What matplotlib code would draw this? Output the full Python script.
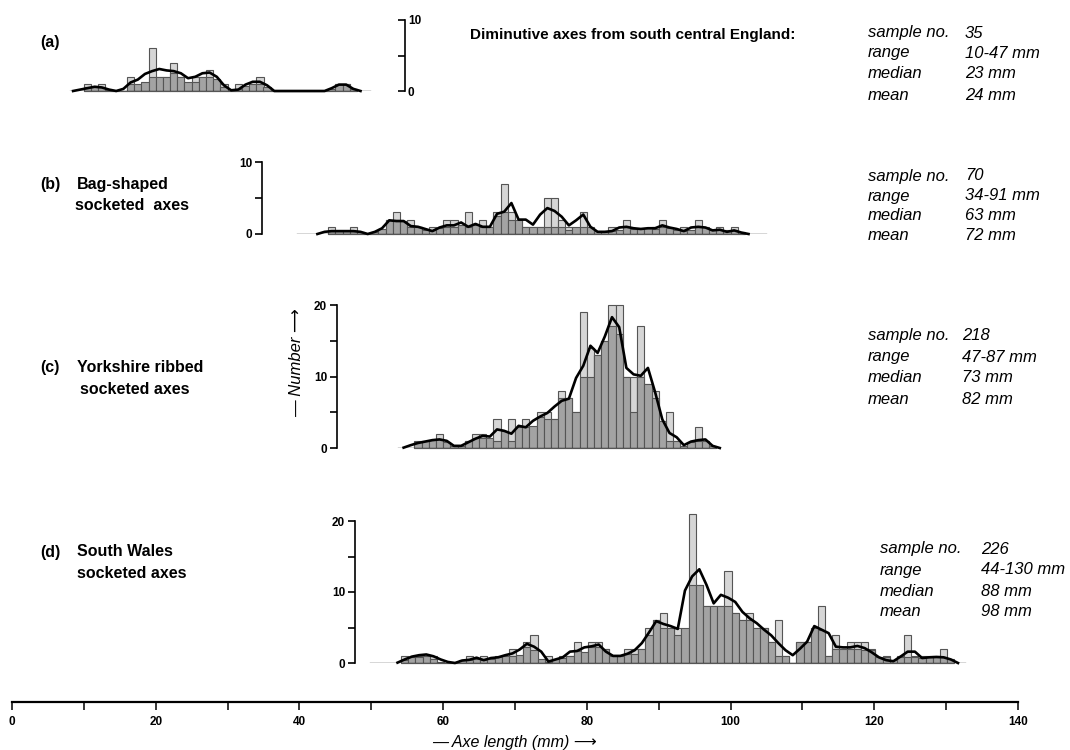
import numpy as np
import matplotlib
matplotlib.use("Agg")
import matplotlib.pyplot as plt

plt.rcParams['font.family'] = ['Liberation Sans', 'DejaVu Sans']

W, H = 1070, 750

# (a) diminutive axes, bins start at 10 mm
a_start = 10
a_raw = [1, 0, 1, 0, 0, 0, 2, 0, 0, 6, 2, 2, 4, 2, 1, 2, 2, 3, 1, 1,
         0, 1, 0, 1, 2, 0, 0, 0, 0, 0, 0, 0, 0, 0, 0, 1, 1, 0]
a_dark = [0.5, 0.5, 0.5, 0.2, 0, 0, 1, 1, 1.2, 2, 2, 2, 2.5, 2, 1.3, 1.3, 2, 2, 1.7, 0.5,
          0, 0.3, 0.7, 1, 1, 0.5, 0, 0, 0, 0, 0, 0, 0, 0, 0.3, 1, 1, 0.3]
a_lstart = 8
a_line = [0, 0.2, 0.4, 0.6, 0.5, 0.2, 0, 0.3, 1.2, 1.6, 2.4, 2.8, 3.1, 2.9, 2.8, 2.5, 1.8, 2.0,
          2.5, 2.6, 2.0, 0.8, 0.1, 0.2, 0.9, 1.3, 1.3, 0.8, 0, 0, 0, 0, 0, 0, 0, 0,
          0.4, 0.9, 0.9, 0.3, 0]

# (b) bag-shaped socketed axes
b_start = 44
b_raw = [1, 0, 0, 1, 0, 0, 0, 0, 2, 3, 1, 2, 1, 0, 1, 0, 2, 2, 1, 3,
         1, 2, 1, 3, 7, 3, 2, 1, 1, 1, 5, 5, 2, 1, 0, 3, 0, 0, 0, 1,
         0, 2, 0, 0, 0, 1, 2, 0, 0, 1, 0, 2, 0, 0, 1, 0, 1, 0]
b_dark = [0.4, 0.4, 0.4, 0.4, 0.3, 0, 0.3, 0.7, 1.9, 1.9, 1.8, 1, 1, 0.6, 0.6, 0.8, 1, 1, 1.3, 1,
          1.3, 1, 1, 2.5, 3, 2, 2, 1, 1, 1, 1, 1, 1, 0.5, 1, 1, 1, 0.4, 0.4, 0.4,
          0.5, 1, 0.7, 0.7, 0.8, 0.7, 1, 0.8, 0.6, 0.4, 0.5, 1, 1, 0.6, 0.5, 0.5, 0.5, 0.3]
b_lstart = 42
b_line = [0, 0.3, 0.4, 0.4, 0.4, 0.4, 0.3, 0.0, 0.3, 0.8, 1.9, 1.8, 1.8, 1.1, 1.0, 0.7, 0.4,
          0.9, 1.2, 1.2, 1.6, 1.0, 1.4, 1.0, 1.0, 2.8, 3.1, 4.3, 2.0, 2.0, 1.3, 2.7, 3.6,
          3.2, 2.4, 1.2, 1.9, 2.7, 1.0, 0.3, 0.3, 0.4, 0.9, 1.0, 0.8, 0.7, 0.8, 0.8, 1.2,
          0.9, 0.7, 0.4, 0.9, 1.0, 0.9, 0.5, 0.6, 0.3, 0.5, 0.2, 0]

# (c) Yorkshire ribbed socketed axes
c_start = 56
c_raw = [1, 1, 1, 2, 0, 0, 0, 1, 2, 2, 1, 4, 2, 4, 3, 4, 3, 5, 5, 4,
         8, 7, 5, 19, 14, 13, 15, 20, 20, 10, 10, 17, 9, 8, 3, 5, 1, 0, 0, 3,
         1, 0]
c_dark = [0.8, 1, 1.1, 1.2, 0.8, 0.3, 0.3, 1, 1.4, 1.4, 1.4, 1, 2.4, 1, 2.9, 3, 3.1, 4.3, 4, 4,
          7, 7, 5, 10, 10, 13, 15, 17, 16, 10, 5, 10, 9, 7, 3.8, 1, 1, 0.3, 0.8, 1,
          1, 0.3]
c_lstart = 54
c_line = [0.05, 0.4, 0.7, 0.9, 1.1, 1.2, 1.0, 0.3, 0.3, 0.8, 1.3, 1.7, 1.6, 2.6, 2.4, 2.0,
          3.1, 2.9, 3.8, 4.4, 4.9, 5.8, 6.6, 6.9, 9.8, 11.5, 14.3, 13.3, 15.6, 18.3, 16.9,
          11.2, 10.3, 10.1, 11.2, 7.8, 4.0, 2.1, 1.5, 0.4, 0.9, 1.1, 1.2, 0.3, 0]

# (d) South Wales socketed axes
d_start = 54
d_raw = [1, 0, 1, 1, 1, 0, 0, 0, 0, 1, 0, 1, 0, 1, 1, 2, 1, 3, 4, 0,
         1, 0, 1, 1, 3, 1, 3, 3, 2, 1, 1, 2, 2, 2, 5, 6, 7, 5, 5, 4,
         21, 11, 8, 8, 8, 13, 7, 6, 7, 5, 5, 3, 6, 1, 0, 3, 3, 5, 8, 1,
         4, 2, 3, 3, 3, 2, 0, 1, 0, 1, 4, 1, 1, 1, 1, 2, 0]
d_dark = [0.4, 0.8, 0.9, 1.0, 0.6, 0.2, 0, 0, 0.4, 0.4, 0.6, 0.4, 0.6, 0.8, 1.0, 1.0, 1.1, 2.2, 1.9, 0.5,
          0.2, 0.5, 0.7, 1.0, 1.7, 1.5, 2.2, 2.3, 2.0, 1.0, 1.0, 1.2, 1.2, 2.0, 4.0, 6.0, 5.0, 5.0, 4.0, 5.0,
          11, 11, 8, 8, 8, 8, 7, 6, 6, 5, 5, 3, 1, 1, 0, 3, 3, 5, 4.7, 1,
          2, 2, 2, 2, 1.8, 1.9, 0.8, 0.8, 0.4, 0.9, 0.8, 0.8, 0.7, 0.8, 0.8, 0.8, 0.5]
d_lstart = 53
d_line = [0.05, 0.5, 0.9, 1.1, 1.2, 0.95, 0.5, 0.15, 0.0, 0.35, 0.45, 0.75, 0.4, 0.7, 0.8,
          1.1, 1.35, 1.9, 2.7, 2.3, 1.6, 0.2, 0.5, 0.8, 1.6, 1.7, 2.2, 2.35, 2.6, 1.6, 1.0,
          1.0, 1.3, 1.8, 2.8, 4.3, 5.9, 5.5, 5.2, 4.8, 10.2, 12.2, 13.2, 11.0, 8.4, 9.6,
          9.2, 8.6, 7.2, 6.3, 5.6, 4.7, 3.9, 2.8, 1.8, 1.1, 2.0, 3.0, 5.2, 4.7, 4.2, 2.3,
          2.2, 2.2, 2.4, 2.1, 1.5, 0.8, 0.4, 0.25, 0.9, 1.6, 1.6, 0.7, 0.8, 0.85, 0.8, 0.5, 0]

stat_labels = ['sample no.', 'range', 'median', 'mean']
a_stats = ['35', '10-47 mm', '23 mm', '24 mm']
b_stats = ['70', '34-91 mm', '63 mm', '72 mm']
c_stats = ['218', '47-87 mm', '73 mm', '82 mm']
d_stats = ['226', '44-130 mm', '88 mm', '98 mm']

LIGHT = '#d6d6d6'
DARK = '#a3a3a3'
EDGE = '#555555'

fig = plt.figure(figsize=(W / 100, H / 100), dpi=100)


def T(x, y, s, **kw):
    kw.setdefault('va', 'center')
    return fig.text(x / W, 1 - y / H, s, **kw)


def panel(base, ymax, per):
    ax = fig.add_axes([12 / W, 1 - base / H, 1006 / W, ymax * per / H])
    ax.set_xlim(0, 140)
    ax.set_ylim(0, ymax)
    ax.patch.set_alpha(0)
    for s in ['top', 'bottom', 'left', 'right']:
        ax.spines[s].set_visible(False)
    ax.set_xticks([])
    return ax


def draw(ax, start, raw, dark, lstart, line, xr, off=0.0):
    x = start + np.arange(len(raw)) + off
    ax.bar(x, raw, width=1, align='edge', color=LIGHT, edgecolor=EDGE, lw=0.8, clip_on=False, zorder=1)
    ax.bar(x, dark, width=1, align='edge', color=DARK, edgecolor=EDGE, lw=0.8, clip_on=False, zorder=2)
    xl = lstart + np.arange(len(line)) + 0.5 + off
    ax.plot(xl, line, color='black', lw=1.9, clip_on=False, zorder=4, solid_joinstyle='round')
    ax.plot(xr, [0, 0], color='#333333', lw=1, zorder=3)


def yaxis(ax, xpos, ymax, side='left'):
    sp = ax.spines[side]
    sp.set_visible(True)
    sp.set_position(('data', xpos))
    sp.set_bounds(0, ymax)
    sp.set_linewidth(1.2)
    if side == 'right':
        ax.yaxis.tick_right()
        direction = 'in'
    else:
        ax.yaxis.tick_left()
        direction = 'out'
    ax.set_yticks(list(range(0, ymax + 1, 10)))
    ax.set_yticks(list(range(5, ymax, 10)), minor=True)
    ax.tick_params(axis='y', which='both', direction=direction, length=5, width=1.2, pad=2)
    ax.tick_params(axis='y', labelsize=8.5)
    for lb in ax.get_yticklabels():
        lb.set_fontweight('bold')


# panel (a)
ax_a = panel(91, 10, 7.1)
draw(ax_a, a_start, a_raw, a_dark, a_lstart, a_line, [8.1, 49.8])
yaxis(ax_a, 54.7, 10, side='right')

# panel (b)
ax_b = panel(234, 10, 7.2)
draw(ax_b, b_start, b_raw, b_dark, b_lstart, b_line, [39.7, 105])
yaxis(ax_b, 34.8, 10)

# panel (c)
ax_c = panel(448, 20, 7.15)
draw(ax_c, c_start, c_raw, c_dark, c_lstart, c_line, [53.7, 97.6])
yaxis(ax_c, 45.2, 20)

# panel (d)
ax_d = panel(663, 20, 7.1)
draw(ax_d, d_start, d_raw, d_dark, d_lstart, d_line, [49.8, 132.6], off=0.15)
yaxis(ax_d, 47.7, 20)

# main length axis
ax_m = fig.add_axes([12 / W, 1 - 702 / H, 1006 / W, 0.0001])
ax_m.set_xlim(0, 140)
for s in ['top', 'left', 'right']:
    ax_m.spines[s].set_visible(False)
ax_m.spines['bottom'].set_linewidth(1.6)
ax_m.set_yticks([])
ax_m.set_xticks(range(0, 141, 20))
ax_m.set_xticks(range(10, 140, 20), minor=True)
ax_m.tick_params(axis='x', which='both', direction='out', length=6, width=1.1, pad=4, labelsize=8.5)
for lb in ax_m.get_xticklabels():
    lb.set_fontweight('bold')

T(515, 742, '\u2014 Axe length (mm) \u27f6', style='italic', fontsize=11.5, ha='center')
T(297, 363, '\u2014 Number \u27f6', style='italic', fontsize=12, ha='center', rotation=90)

# titles
bold = dict(fontweight='bold', fontsize=11.5)
T(40, 43, '(a)', **bold)
T(470, 35, 'Diminutive axes from south central England:', fontweight='bold', fontsize=11)
T(40, 185, '(b)', **bold)
T(77, 185, 'Bag-shaped', **bold)
T(75, 206, 'socketed  axes', **bold)
T(40, 368, '(c)', **bold)
T(77, 368, 'Yorkshire ribbed', **bold)
T(80, 389, 'socketed axes', **bold)
T(40, 552, '(d)', **bold)
T(77, 552, 'South Wales', **bold)
T(77, 573, 'socketed axes', **bold)

# summary statistics
ital = dict(style='italic', fontsize=12)
for (lx, vx, ys, vals) in [
        (868, 965, [33, 53, 74, 95], a_stats),
        (868, 965, [176, 196, 216, 236], b_stats),
        (868, 962, [336, 357, 378, 399], c_stats),
        (880, 981, [549, 570, 591, 612], d_stats)]:
    for lab, y, v in zip(stat_labels, ys, vals):
        T(lx, y, lab, **ital)
        T(vx, y, v, **ital)

fig.savefig('out.png', dpi=100)
